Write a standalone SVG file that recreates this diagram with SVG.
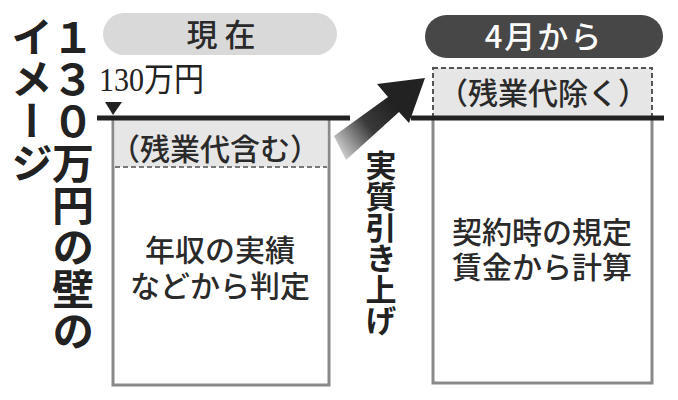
<svg xmlns="http://www.w3.org/2000/svg" width="678" height="400" viewBox="0 0 678 400">
<style>
.jp{font-family:"Noto Sans CJK JP","Noto Sans",sans-serif;fill:#2a2a2a}
.title{font-size:42px;font-weight:700;fill:#222;writing-mode:vertical-rl;text-orientation:upright}
.body{font-size:30px;font-weight:500;text-anchor:middle}
.box{fill:#fff;stroke:#8a8a8a;stroke-width:3}
.band{fill:#e6e6e6}
.rule{stroke:#222;stroke-width:5}
</style>
<defs>
<linearGradient id="ag" gradientUnits="userSpaceOnUse" x1="338" y1="150" x2="395" y2="108">
<stop offset="0" stop-color="#d0d0d0"/>
<stop offset="0.55" stop-color="#3a3a3a"/>
<stop offset="1" stop-color="#222"/>
</linearGradient>
</defs>
<rect width="678" height="400" fill="#fff"/>
<g id="title">
<text class="jp title" x="73" y="16">１３０万円の壁の</text>
<text class="jp title" x="32" y="16">イメージ</text>
</g>
<g id="now-pill">
<rect x="103" y="13" width="234" height="42" rx="21" fill="#d9d9d9"/>
<text class="jp body" x="221" y="46" style="font-size:31px">現 在</text>
</g>
<g id="april-pill">
<rect x="425" y="15" width="238" height="43" rx="21.5" fill="#474747"/>
<text class="jp body" x="544" y="48" style="font-size:31px;fill:#fff;letter-spacing:2px">4月から</text>
</g>
<g id="threshold">
<text x="99" y="91" font-family="'Liberation Serif','Noto Sans CJK JP',serif" font-size="33" fill="#222" textLength="105" lengthAdjust="spacingAndGlyphs">130万円</text>
<polygon points="105,102 122,102 113,115" fill="#222"/>
</g>
<g id="current-box">
<rect class="box" x="113" y="118" width="216" height="267"/>
<rect class="band" x="114.5" y="120" width="213" height="47"/>
<line x1="115" y1="167" x2="327" y2="167" stroke="#777" stroke-width="2" stroke-dasharray="5 3"/>
<text class="jp body" x="215" y="160">（残業代含む）</text>
<text class="jp body" x="220" y="261">年収の実績<tspan x="220" dy="36">などから判定</tspan></text>
</g>
<g id="april-box">
<rect class="band" x="433" y="68" width="219" height="50" stroke="#555" stroke-width="2" stroke-dasharray="5 3"/>
<text class="jp body" x="543" y="104">（残業代除く）</text>
<rect class="box" x="433" y="118" width="219" height="265"/>
<text class="jp body" x="542" y="243">契約時の規定<tspan x="542" dy="35">賃金から計算</tspan></text>
</g>
<g id="connectors">
<line class="rule" x1="97" y1="118" x2="350" y2="118"/>
<line class="rule" x1="411" y1="118" x2="664" y2="118"/>
<polygon points="334,136 388,97 377,84 425,78 409,123 399,112 346,160" fill="url(#ag)"/>
<text class="jp title" x="381" y="150" style="font-size:31px">実質引き上げ</text>
</g>
</svg>
